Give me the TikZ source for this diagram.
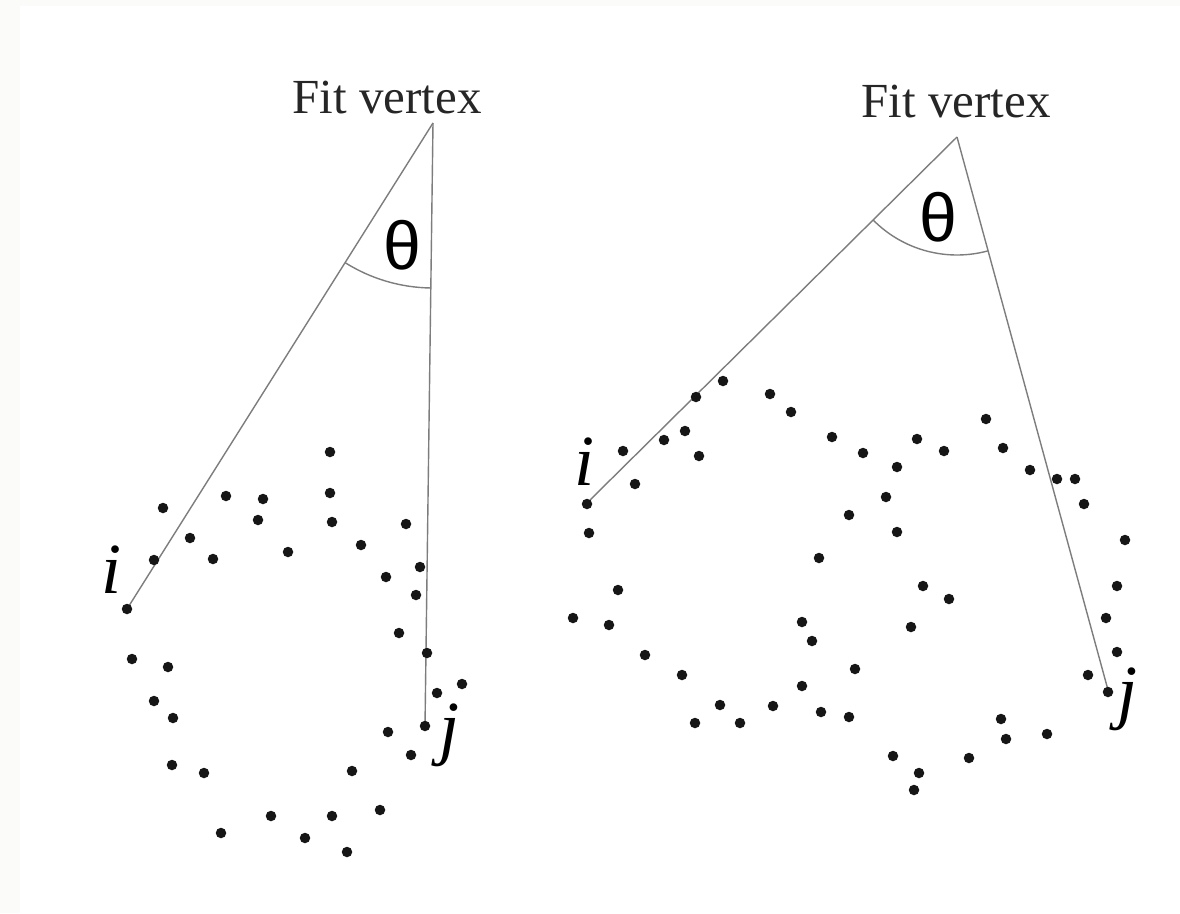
\documentclass[tikz,border=0pt]{standalone}
\usepackage{fontspec}
\setmainfont{Liberation Serif}
\newfontfamily\greekfont{Liberation Sans}
\usetikzlibrary{angles}

\definecolor{raygray}{RGB}{125,125,125}
\definecolor{dotblack}{RGB}{22,22,22}
\definecolor{edgetint}{RGB}{251,251,249}

\tikzset{
  ray/.style={draw=raygray, line width=1.4pt},
  anglearc/.style={draw=raygray, line width=1.4pt},
  dot/.style={circle, fill=dotblack, inner sep=0pt, minimum size=10.5pt},
  caption/.style={inner sep=0pt, anchor=base, text=black!85,
    font=\fontsize{49}{52}\selectfont},
  thetalabel/.style={inner sep=0pt, font=\greekfont\fontsize{68}{70}\selectfont},
  endlabel/.style={inner sep=0pt, anchor=base, font=\itshape\fontsize{72}{74}\selectfont}
}

\begin{document}
\begin{tikzpicture}[x=1pt, y=-1pt]
  \useasboundingbox (0,0) rectangle (1180,913);
  \fill[white] (0,0) rectangle (1180,913);
  \fill[edgetint] (0,0) rectangle (20,913);
  \fill[edgetint] (0,0) rectangle (1180,6);

  % ---------- left configuration ----------
  \coordinate (vL) at (433,123);
  \coordinate (iL) at (127,609);
  \coordinate (jL) at (425,726);

  \draw[ray] (vL) -- (iL);
  \draw[ray] (vL) -- (jL);
  \pic[anglearc, angle radius=165pt] {angle = iL--vL--jL};

  \node[caption] (fitL) at (387,113) {Fit vertex};
  \node[thetalabel] (thL) at (402,245) {θ};
  \node[endlabel] (labiL) at (112,593) {i};
  \node[endlabel] (labjL) at (449,751) {j};

  \foreach \px/\py [count=\k] in {
      330/452, 163/508, 226/496, 263/499, 330/493, 258/520, 332/522,
      406/524, 190/538, 154/560, 213/559, 288/552, 361/545, 420/567,
      386/577, 416/595, 127/609, 399/633, 427/653, 132/659, 168/667,
      437/693, 462/684, 154/701, 173/718, 388/732, 425/726, 411/755,
      172/765, 204/773, 352/771, 380/810, 271/816, 332/816, 221/833,
      305/838, 347/852}
    \node[dot] (dl\k) at (\px,\py) {};

  % ---------- right configuration ----------
  \coordinate (vR) at (957,137);
  \coordinate (iR) at (590,500);
  \coordinate (jR) at (1108,690);

  \draw[ray] (vR) -- (iR);
  \draw[ray] (vR) -- (jR);
  \pic[anglearc, angle radius=118pt] {angle = iR--vR--jR};

  \node[caption] (fitR) at (956,117) {Fit vertex};
  \node[thetalabel] (thR) at (938,217) {θ};
  \node[endlabel] (labiR) at (584,485) {i};
  \node[endlabel] (labjR) at (1127,715) {j};

  \foreach \px/\py [count=\k] in {
      723/381, 696/397, 770/394, 791/412, 664/440, 685/431, 623/451,
      699/456, 832/437, 863/453, 635/484, 587/504, 589/533, 849/515,
      819/558, 618/590, 573/618, 609/625, 802/622, 812/641, 645/655,
      855/669, 682/675, 802/686, 720/705, 773/706, 695/723, 740/723,
      821/712, 849/717, 986/419, 917/439, 944/451, 1003/448, 897/467,
      1030/470, 1057/479, 1075/479, 1084/504, 886/497, 897/532,
      1125/540, 923/586, 949/599, 1117/586, 911/627, 1106/618,
      1117/652, 1088/675, 1108/692, 1001/719, 1006/739, 1047/734,
      893/756, 969/758, 919/773, 914/790}
    \node[dot] (dr\k) at (\px,\py) {};
\end{tikzpicture}
\end{document}
